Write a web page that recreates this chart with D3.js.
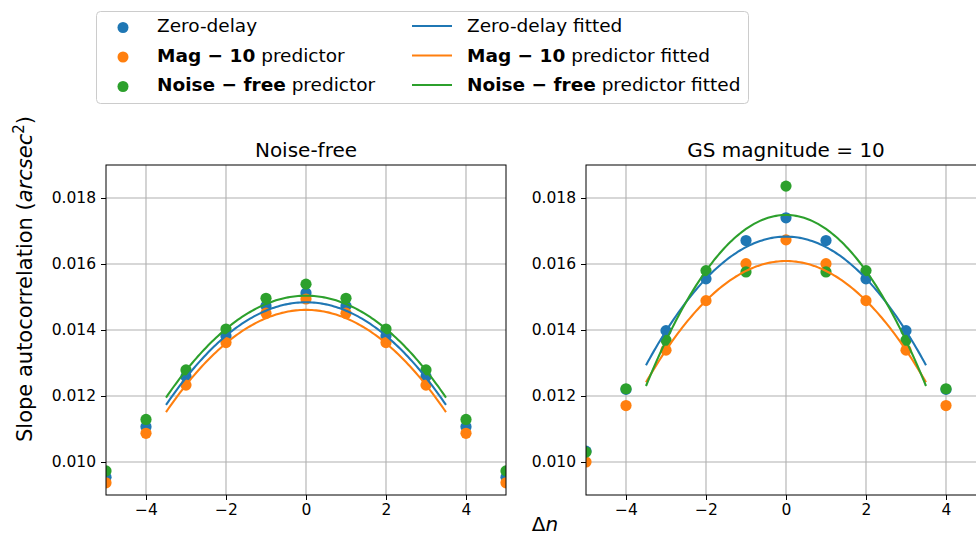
<!DOCTYPE html>
<html>
<head>
<meta charset="utf-8">
<script src="https://cdn.jsdelivr.net/npm/d3@7"></script>
<style>
  html, body { margin: 0; padding: 0; background: #fff; }
  svg { display: block; font-family: "DejaVu Sans", sans-serif; }
</style>
</head>
<body>
<svg id="chart" width="976" height="533"></svg>
<script>
// Lag offsets (Δn)
const deltaN = [-5, -4, -3, -2, -1, 0, 1, 2, 3, 4, 5];

// Noise-free panel: measured slope autocorrelation (arcsec^2)
const nfZeroDelay = [0.00954, 0.01107, 0.01259, 0.01382, 0.01473, 0.01512, 0.01473, 0.01382, 0.01259, 0.01107, 0.00954];
const nfMag10     = [0.00937, 0.01087, 0.01233, 0.01362, 0.01451, 0.01494, 0.01451, 0.01362, 0.01233, 0.01087, 0.00937];
const nfNoiseFree = [0.00973, 0.01129, 0.01279, 0.01403, 0.01496, 0.01539, 0.01496, 0.01403, 0.01279, 0.01129, 0.00973];

// GS magnitude = 10 panel
const gsZeroDelay = [0.01033, 0.01220, 0.01398, 0.01555, 0.01671, 0.01740, 0.01671, 0.01555, 0.01398, 0.01220, 0.01033];
const gsMag10     = [0.01000, 0.01171, 0.01339, 0.01489, 0.01601, 0.01673, 0.01601, 0.01489, 0.01339, 0.01171, 0.01000];
const gsNoiseFree = [0.01030, 0.01222, 0.01369, 0.01580, 0.01576, 0.01836, 0.01576, 0.01580, 0.01369, 0.01222, 0.01030];

// Quadratic fits y = peak - curvature * Δn^2, evaluated over the fit range
const fitRange = [-3.5, 3.5];
const nfFitPeak = [0.01484, 0.01461, 0.01504];
const nfFitCurv = [0.000254, 0.000253, 0.000252];
const gsFitPeak = [0.01683, 0.01609, 0.017485];
const gsFitCurv = [0.000318, 0.000300, 0.000423];

// Axis ticks
const xTicks = [-4, -2, 0, 2, 4];
const yTicks = [0.010, 0.012, 0.014, 0.016, 0.018];
const xDomain = [-5, 5];
const yDomain = [0.009, 0.019];

const panelTitles = ["Noise-free", "GS magnitude = 10"];
const seriesColors = ["#1f77b4", "#ff7f0e", "#2ca02c"];

const svg = d3.select("#chart");

const panels = [
  { title: panelTitles[0], left: 106, series: [nfZeroDelay, nfMag10, nfNoiseFree], peak: nfFitPeak, curv: nfFitCurv },
  { title: panelTitles[1], left: 586, series: [gsZeroDelay, gsMag10, gsNoiseFree], peak: gsFitPeak, curv: gsFitCurv }
];

const plotW = 400, plotTop = 165, plotBottom = 495;
const y = d3.scaleLinear().domain(yDomain).range([plotBottom, plotTop]);
const fmtY = d3.format(".3f");
const fmtX = d => (d < 0 ? "\u2212" + Math.abs(d) : String(d));

panels.forEach((p, pi) => {
  const x = d3.scaleLinear().domain(xDomain).range([p.left, p.left + plotW]);
  const g = svg.append("g");

  const clipId = "clip" + pi;
  svg.append("clipPath").attr("id", clipId)
    .append("rect").attr("x", p.left).attr("y", plotTop).attr("width", plotW).attr("height", plotBottom - plotTop);

  // grid
  g.append("g").selectAll("line").data(xTicks).join("line")
    .attr("x1", d => x(d)).attr("x2", d => x(d)).attr("y1", plotTop).attr("y2", plotBottom)
    .attr("stroke", "#b0b0b0").attr("stroke-width", 1.1);
  g.append("g").selectAll("line").data(yTicks).join("line")
    .attr("x1", p.left).attr("x2", p.left + plotW).attr("y1", d => y(d)).attr("y2", d => y(d))
    .attr("stroke", "#b0b0b0").attr("stroke-width", 1.1);

  // axes
  const xAxis = d3.axisBottom(x).tickValues(xTicks).tickFormat(fmtX).tickSize(5).tickPadding(4);
  const yAxis = d3.axisLeft(y).tickValues(yTicks).tickFormat(fmtY).tickSize(5).tickPadding(5);
  const gx = g.append("g").attr("transform", `translate(0,${plotBottom})`).call(xAxis);
  const gy = g.append("g").attr("transform", `translate(${p.left},0)`).call(yAxis);
  [gx, gy].forEach(a => {
    a.select(".domain").remove();
    a.selectAll(".tick line").attr("stroke", "#000").attr("stroke-width", 1);
    a.selectAll(".tick text").attr("fill", "#000").style("font-size", "15.5px")
      .style("font-family", "DejaVu Sans, sans-serif");
  });
  gx.selectAll(".tick text").attr("dy", "0.71em");

  // points
  const marks = g.append("g").attr("clip-path", `url(#${clipId})`);
  p.series.forEach((vals, si) => {
    marks.append("g").selectAll("circle").data(vals).join("circle")
      .attr("cx", (d, i) => x(deltaN[i])).attr("cy", d => y(d))
      .attr("r", 5.6).attr("fill", seriesColors[si]);
  });

  // fitted curves
  const line = d3.line().x(d => x(d[0])).y(d => y(d[1]));
  const xs = d3.range(0, 141).map(i => fitRange[0] + (fitRange[1] - fitRange[0]) * i / 140);
  p.peak.forEach((pk, si) => {
    const pts = xs.map(v => [v, pk - p.curv[si] * v * v]);
    marks.append("path").datum(pts).attr("d", line)
      .attr("fill", "none").attr("stroke", seriesColors[si]).attr("stroke-width", 2.1);
  });

  // frame
  g.append("rect").attr("x", p.left).attr("y", plotTop).attr("width", plotW).attr("height", plotBottom - plotTop)
    .attr("fill", "none").attr("stroke", "#000").attr("stroke-width", 1);

  // title
  g.append("text").attr("x", p.left + plotW / 2).attr("y", 157).attr("text-anchor", "middle")
    .style("font-size", "20px").text(p.title);
});

// y label
const yl = svg.append("text").attr("transform", "translate(32,279) rotate(-90)")
  .attr("text-anchor", "middle").style("font-size", "21px");
yl.append("tspan").text("Slope autocorrelation (");
yl.append("tspan").attr("font-style", "italic").text("arcsec");
yl.append("tspan").attr("font-size", "15px").attr("dy", "-8").text("2");
yl.append("tspan").attr("dy", "8").text(")");

// x label
const xl = svg.append("text").attr("x", 545).attr("y", 531).attr("text-anchor", "middle")
  .style("font-size", "20px");
xl.append("tspan").text("\u0394");
xl.append("tspan").attr("font-style", "italic").text("n");

// legend
const leg = svg.append("g");
leg.append("rect").attr("x", 96.5).attr("y", 11.5).attr("width", 652).attr("height", 92)
  .attr("rx", 4).attr("fill", "#fff").attr("fill-opacity", 0.8)
  .attr("stroke", "#cccccc").attr("stroke-width", 1);

const legendRows = [
  [{ t: "Zero-delay", b: false }],
  [{ t: "Mag \u2212 10", b: true }, { t: " predictor", b: false }],
  [{ t: "Noise \u2212 free", b: true }, { t: " predictor", b: false }]
];
const rowY = [26, 55.5, 85];
legendRows.forEach((parts, i) => {
  leg.append("circle").attr("cx", 123).attr("cy", rowY[i] + 1.5).attr("r", 5.5).attr("fill", seriesColors[i]);
  const t1 = leg.append("text").attr("x", 157).attr("y", rowY[i]).attr("dy", "0.35em").style("font-size", "18.5px");
  parts.forEach(pt => t1.append("tspan").attr("font-weight", pt.b ? "bold" : "normal").text(pt.t));

  leg.append("line").attr("x1", 412).attr("x2", 452).attr("y1", rowY[i]).attr("y2", rowY[i])
    .attr("stroke", seriesColors[i]).attr("stroke-width", 2.1);
  const t2 = leg.append("text").attr("x", 467).attr("y", rowY[i]).attr("dy", "0.35em").style("font-size", "18.5px");
  parts.forEach(pt => t2.append("tspan").attr("font-weight", pt.b ? "bold" : "normal").text(pt.t));
  t2.append("tspan").text(" fitted");
});
</script>
</body>
</html>
